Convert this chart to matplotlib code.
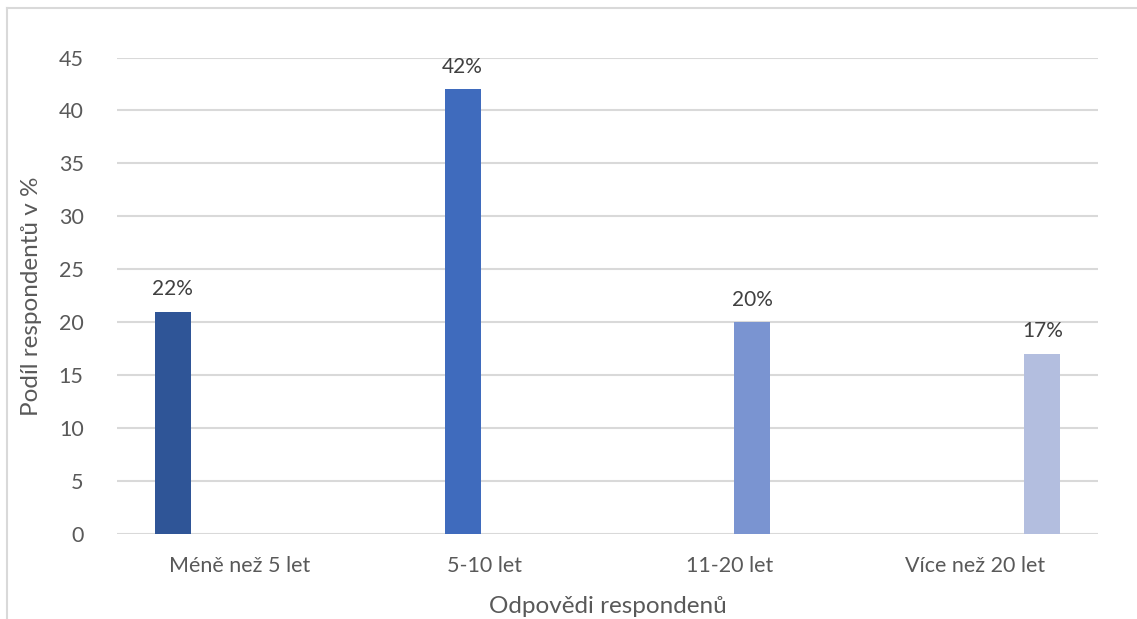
import matplotlib.pyplot as plt
from matplotlib.lines import Line2D

categories = ["Méně než 5 let", "5-10 let", "11-20 let", "Více než 20 let"]
values = [21, 42, 20, 17]
value_labels = ["22%", "42%", "20%", "17%"]
colors = ["#2F5597", "#3F6BBD", "#7A94D1", "#B3BEDF"]

plt.rcParams["font.family"] = ["Lato", "DejaVu Sans"]
text_color = "#595959"

fig = plt.figure(figsize=(11.37, 6.19), dpi=100)
ax = fig.add_axes([0.1029, 0.1373, 0.8628, 0.7698])

# Excel clustered layout: each category holds one series, shifted by series slot
slot = 0.182
width = 0.147
for i, (v, lab, c) in enumerate(zip(values, value_labels, colors)):
    x = i + (i - 1.5) * slot
    ax.bar(x, v, width=width, color=c, zorder=3)
    ax.text(x, v + 1.2, lab, ha="center", va="bottom", fontsize=15, color="#404040")

ax.set_xlim(-0.5, 3.5)
ax.set_ylim(0, 45)
ax.set_yticks(range(0, 46, 5))
ax.set_xticks(range(len(categories)))
ax.set_xticklabels(categories)
ax.tick_params(axis="both", length=0, labelsize=15.5, labelcolor=text_color)
ax.tick_params(axis="x", pad=16)
ax.tick_params(axis="y", pad=24)
ax.grid(axis="y", color="#D9D9D9", linewidth=1.5, zorder=0)
for s in ax.spines.values():
    s.set_visible(False)

ax.set_xlabel("Odpovědi respondenů", fontsize=17.5, color=text_color, labelpad=14)
ax.set_ylabel("Podíl respondentů v %", fontsize=17.5, color=text_color, labelpad=12)

# chart area border (cropped at right and bottom)
fig.add_artist(Line2D([7 / 1137, 7 / 1137], [0, 1 - 8 / 619], transform=fig.transFigure,
                      color="#D9D9D9", linewidth=1.5))
fig.add_artist(Line2D([7 / 1137, 1], [1 - 8 / 619, 1 - 8 / 619], transform=fig.transFigure,
                      color="#D9D9D9", linewidth=1.5))

fig.savefig("out.png", dpi=100)
